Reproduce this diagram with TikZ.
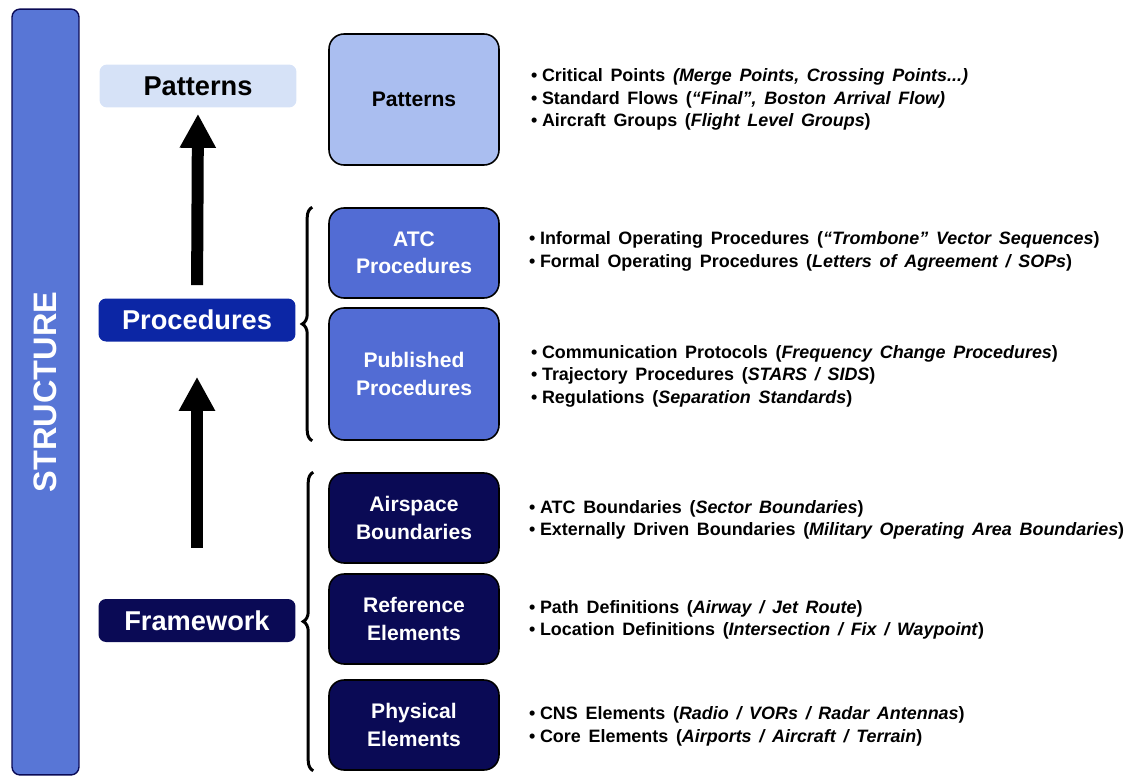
\documentclass[tikz,border=0pt]{standalone}
\usepackage{fontspec}
\setmainfont{Liberation Sans}
\usetikzlibrary{arrows.meta,decorations.pathreplacing}
\definecolor{barblue}{RGB}{88,118,214}
\definecolor{palepat}{RGB}{214,226,247}
\definecolor{lightpat}{RGB}{170,190,240}
\definecolor{procblue}{RGB}{82,108,212}
\definecolor{darkproc}{RGB}{12,38,165}
\definecolor{navy}{RGB}{10,10,85}
\newcommand\widerspaces{\spaceskip=4.4pt plus 1pt minus 1pt\relax}
\newcommand\bul{\textbullet\hspace{2.6pt}}

\begin{document}
\begin{tikzpicture}[x=0.02cm, y=-0.02cm,
    rbox/.style={draw=black, line width=0.9pt, rounded corners=0.3cm, minimum width=3.4cm,
                 minimum height=1.8cm, align=center, font=\fontsize{12}{15.5}\selectfont\bfseries},
    lbox/.style={rounded corners=0.15cm, minimum width=3.94cm, minimum height=0.86cm,
                 font=\fontsize{15.5}{18}\selectfont\bfseries},
    items/.style={anchor=west, align=left, font=\fontsize{10.2}{12.8}\selectfont\bfseries,
                  execute at begin node=\widerspaces},
    uparrow/.style={line width=0.24cm, -{Triangle[width=0.68cm,length=0.68cm]}},
    curly/.style={decorate, decoration={brace, amplitude=0.2cm}, line width=1.7pt}]
    \useasboundingbox (0,0) rectangle (1138,777);

    % Structure bar
    \node[draw=navy, line width=0.8pt, fill=barblue, rounded corners=0.16cm, rotate=90,
          minimum width=15.32cm, minimum height=1.34cm, text=white,
          font=\fontsize{18.5}{20}\selectfont\bfseries] (structure) at (45.5,392) {STRUCTURE};

    % Levels on the left
    \node[lbox, fill=palepat] (lpat) at (198,86) {Patterns};
    \node[lbox, fill=darkproc, text=white] (lproc) at (197,320) {Procedures};
    \node[lbox, fill=navy, text=white] (lframe) at (197,620.5) {Framework};

    % Arrows between levels
    \draw[uparrow, shorten <=0.26cm, shorten >=0.12cm] (lproc.north) -- (lpat.south);
    \draw[uparrow, shorten <=1.02cm, shorten >=0.7cm] (lframe.north) -- (lproc.south);

    % Boxes on the right
    \node[rbox, fill=lightpat, minimum height=2.62cm] (rpat) at (414,99.5) {Patterns};
    \node[rbox, fill=procblue, text=white] (atc) at (414,253) {ATC\\Procedures};
    \node[rbox, fill=procblue, text=white, minimum height=2.64cm] (pub) at (414,374) {Published\\Procedures};
    \node[rbox, fill=navy, text=white] (air) at (414,518) {Airspace\\Boundaries};
    \node[rbox, fill=navy, text=white] (ref) at (414,619) {Reference\\Elements};
    \node[rbox, fill=navy, text=white] (phys) at (414,725) {Physical\\Elements};

    % Braces
    \draw[curly] ([xshift=-0.32cm]pub.south west) -- ([xshift=-0.32cm]atc.north west);
    \draw[curly] ([xshift=-0.3cm]phys.south west) -- ([xshift=-0.3cm]air.north west);

    % Descriptions
    \node[items] (tpat) at (525,99.5) {\bul Critical Points \textit{(Merge Points, Crossing Points...)}\\
        \bul Standard Flows (\textit{“Final”, Boston Arrival Flow)}\\
        \bul Aircraft Groups (\textit{Flight Level Groups})};
    \node[items] (tatc) at (523,251.5) {\bul Informal Operating Procedures (\textit{“Trombone” Vector Sequences})\\
        \bul Formal Operating Procedures (\textit{Letters of Agreement / SOPs})};
    \node[items] (tpub) at (525,376) {\bul Communication Protocols (\textit{Frequency Change Procedures})\\
        \bul Trajectory Procedures (\textit{STARS / SIDS})\\
        \bul Regulations (\textit{Separation Standards})};
    \node[items] (tair) at (523,520) {\bul ATC Boundaries (\textit{Sector Boundaries})\\
        \bul Externally Driven Boundaries (\textit{Military Operating Area Boundaries})};
    \node[items] (tref) at (523,620) {\bul Path Definitions (\textit{Airway / Jet Route})\\
        \bul Location Definitions (\textit{Intersection / Fix / Waypoint})};
    \node[items] (tphys) at (523,726.5) {\bul CNS Elements (\textit{Radio / VORs / Radar Antennas})\\
        \bul Core Elements (\textit{Airports / Aircraft / Terrain})};
\end{tikzpicture}
\end{document}
